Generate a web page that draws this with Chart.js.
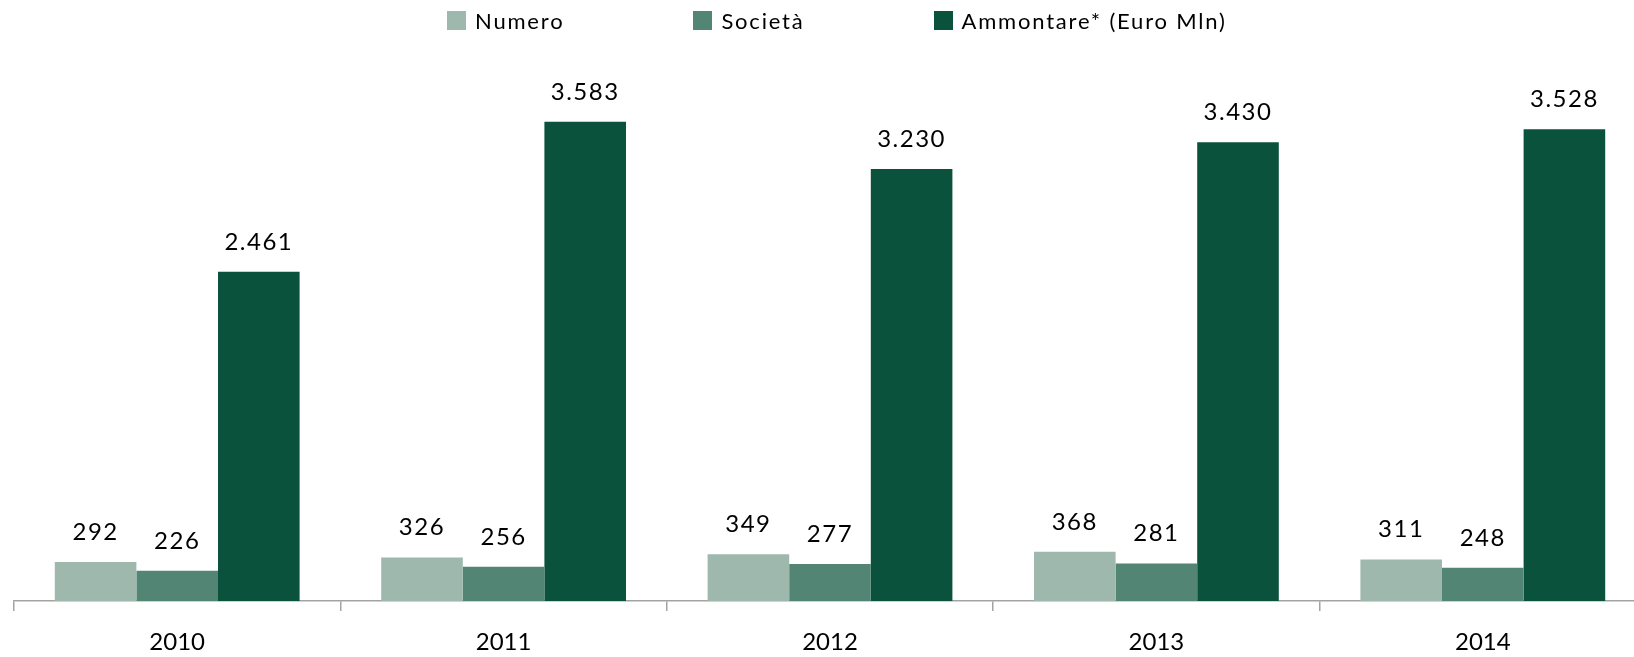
<!DOCTYPE html>
<html>
<head>
<meta charset="utf-8">
<script src="https://cdn.jsdelivr.net/npm/chart.js@4/dist/chart.umd.min.js"></script>
<style>
  html, body { margin: 0; padding: 0; background: #fff; }
  #wrap { position: relative; width: 1634px; height: 657px; overflow: hidden; }
  #chart { position: absolute; left: 0; top: 0; }
  #legend {
    position: absolute; left: 447px; top: 11px;
    display: flex; gap: 129px;
    font-family: Lato, sans-serif; font-size: 22px; letter-spacing: 1.8px; color: #000;
  }
  .item { display: flex; align-items: center; height: 19px; white-space: nowrap; }
  .box { width: 19px; height: 19px; margin-right: 9px; flex: none; }
</style>
</head>
<body>
<div id="wrap">
  <canvas id="chart" width="1660" height="657"></canvas>
  <div id="legend"></div>
</div>
<script>
const years = ['2010', '2011', '2012', '2013', '2014'];
const numero = [292, 326, 349, 368, 311];
const societa = [226, 256, 277, 281, 248];
const ammontare = [2461, 3583, 3230, 3430, 3528];

const seriesNames = ['Numero', 'Società', 'Ammontare* (Euro Mln)'];
const seriesColors = ['#9eb8ae', '#528574', '#0b523d'];

const labelFont = '24px Lato, sans-serif';

// thousands separator with a dot, e.g. 3583 -> 3.583
function fmt(v) {
  return String(v).replace(/\B(?=(\d{3})+(?!\d))/g, '.');
}

// value over each bar
const valueLabels = {
  id: 'valueLabels',
  afterDatasetsDraw(chart) {
    const ctx = chart.ctx;
    ctx.save();
    ctx.font = labelFont;
    ctx.fillStyle = '#000';
    ctx.textAlign = 'center';
    ctx.textBaseline = 'alphabetic';
    if ('letterSpacing' in ctx) ctx.letterSpacing = '1.5px';
    chart.data.datasets.forEach((ds, i) => {
      chart.getDatasetMeta(i).data.forEach((bar, j) => {
        ctx.fillText(fmt(ds.data[j]), bar.x, bar.y - 22);
      });
    });
    ctx.restore();
  }
};

const ctx = document.getElementById('chart').getContext('2d');
const chart = new Chart(ctx, {
  type: 'bar',
  data: {
    labels: years,
    datasets: [numero, societa, ammontare].map((d, i) => ({
      label: seriesNames[i],
      data: d,
      backgroundColor: seriesColors[i],
      borderWidth: 0,
      categoryPercentage: 0.75,
      barPercentage: 1
    }))
  },
  options: {
    responsive: false,
    animation: false,
    layout: { padding: { left: 14, right: 14, top: 66, bottom: 0 } },
    plugins: {
      legend: { display: false },
      tooltip: { enabled: false }
    },
    scales: {
      x: {
        afterFit(scale) { scale.height = 56; },
        grid: {
          display: true,
          offset: true,
          drawOnChartArea: false,
          drawTicks: true,
          tickLength: 10,
          color: '#a3a3a3',
          lineWidth: 1.5
        },
        border: { display: true, color: '#a3a3a3', width: 1.5 },
        ticks: {
          color: '#000',
          font: { family: 'Lato, sans-serif', size: 24 },
          padding: 17
        }
      },
      y: {
        display: false,
        min: 0,
        max: 4000
      }
    }
  },
  plugins: [valueLabels]
});

// legend built from the chart's datasets
const legend = document.getElementById('legend');
chart.data.datasets.forEach(ds => {
  const item = document.createElement('div');
  item.className = 'item';
  const box = document.createElement('span');
  box.className = 'box';
  box.style.background = ds.backgroundColor;
  const txt = document.createElement('span');
  txt.textContent = ds.label;
  item.appendChild(box);
  item.appendChild(txt);
  legend.appendChild(item);
});
</script>
</body>
</html>
